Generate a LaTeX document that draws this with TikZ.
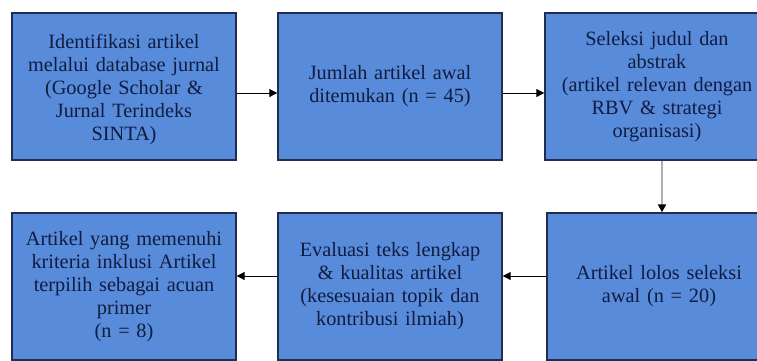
\documentclass[tikz,border=0pt]{standalone}
\usepackage{fontspec}
\setmainfont{Liberation Serif}
\newfontfamily\boxfont{Liberation Serif}
\usetikzlibrary{arrows.meta}
\definecolor{boxfill}{RGB}{88,139,218}
\definecolor{boxline}{RGB}{30,45,80}
\definecolor{boxtext}{RGB}{16,28,64}
\definecolor{vline}{RGB}{175,175,175}
\tikzset{
  stepbox/.style={rectangle, draw=boxline, line width=1.4pt, fill=boxfill,
    minimum width=224pt, minimum height=147pt, text width=222pt, align=center,
    text=boxtext, font=\boxfont\fontsize{20.3}{23}\selectfont, inner sep=0pt},
  flow/.style={-{Triangle[length=8pt,width=8pt]}, line width=1pt, draw=black},
  vflow/.style={-{Triangle[length=8pt,width=8pt,color=black,fill=black]}, line width=1.8pt, draw=vline}
}
\begin{document}
\begin{tikzpicture}[x=1pt,y=-1pt]
\useasboundingbox (0,0) rectangle (757,360);
\clip (0,0) rectangle (757,360);
\fill[white] (0,0) rectangle (757,360);
\node[stepbox] (b1) at (124,86.5) {\\[-2pt]Identifikasi artikel\\melalui database jurnal\\(Google Scholar \&\\Jurnal Terindeks\\SINTA)};
\node[stepbox] (b2) at (390,86.5) {Jumlah artikel awal\\ditemukan (n = 45)};
\node[stepbox] (b3) at (657,86.5) {Seleksi judul dan\\abstrak\\(artikel relevan dengan\\RBV \& strategi\\organisasi)};
\node[stepbox] (b4) at (124,286.5) {Artikel yang memenuhi\\kriteria inklusi Artikel\\terpilih sebagai acuan\\primer\\(n = 8)\\[14pt]};
\node[stepbox] (b5) at (390,286.5) {Evaluasi teks lengkap\\\& kualitas artikel\\(kesesuaian topik dan\\kontribusi ilmiah)};
\node[stepbox] (b6) at (659,286.5) {Artikel lolos seleksi\\awal (n = 20)\\[4pt]};
\draw[flow] ([yshift=-6.5pt]b1.east) -- ([yshift=-6.5pt]b2.west);
\draw[flow] ([yshift=-6.5pt]b2.east) -- ([yshift=-6.5pt]b3.west);
\draw[vflow] ([xshift=5pt]b3.south) -- ([xshift=5pt]b3.south |- b6.north);
\draw[flow] ([yshift=10.5pt]b6.west) -- ([yshift=10.5pt]b5.east);
\draw[flow] ([yshift=10.5pt]b5.west) -- ([yshift=10.5pt]b4.east);
\end{tikzpicture}
\end{document}
